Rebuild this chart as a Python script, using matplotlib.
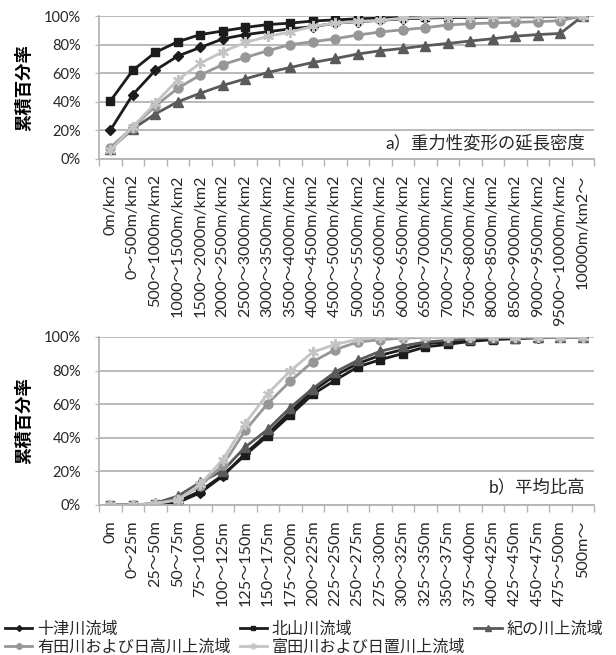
import matplotlib
matplotlib.use("Agg")
import matplotlib.pyplot as plt
from matplotlib.lines import Line2D
from matplotlib.ticker import FixedLocator, PercentFormatter

plt.rcParams["font.family"] = ["Lato", "Noto Sans CJK JP", "DejaVu Sans"]

# --- category labels -------------------------------------------------------
density_labels = ["0m/km2"] + [
    f"{lo}～{lo + 500}m/km2" for lo in range(0, 10000, 500)
] + ["10000m/km2～"]
relief_labels = ["0m"] + [
    f"{lo}～{lo + 25}m" for lo in range(0, 500, 25)
] + ["500m～"]

series_names = ["十津川流域", "北山川流域", "紀の川上流域",
                "有田川および日高川上流域", "富田川および日置川上流域"]

# --- a) cumulative % by gravitational deformation length density ----------
density_totsukawa = [20, 45, 62, 72, 78, 84, 87, 89, 91, 92.5, 95, 96, 97,
                     98, 98.5, 99, 99, 99.2, 99.4, 99.5, 99.6, 100]
density_kitayama = [40.5, 62, 74.5, 82, 87, 89.5, 92, 94, 95, 96.5, 97.3, 98,
                    98.5, 99, 99.2, 99.4, 99.5, 99.6, 99.7, 99.8, 99.9, 100]
density_kinokawa = [7, 21, 31.5, 40, 46, 51.5, 56, 60.5, 64, 67.5, 70.3, 73.4,
                    75.7, 77.3, 79.2, 80.8, 82.5, 84.1, 85.9, 87, 87.8, 100]
density_arida = [8, 22, 37, 49.5, 58.7, 66, 71, 75.7, 80, 82, 84.1, 86.7,
                 88.8, 90.4, 91.8, 93.7, 94.6, 95.1, 95.6, 96, 96.7, 100]
density_tonda = [6, 22.4, 39, 55.4, 67, 75, 81.5, 85.7, 88.8, 92.7, 95, 96.2,
                 97, 98.5, 99, 99.5, 99.6, 99.7, 99.8, 99.9, 99.9, 100]

# --- b) cumulative % by mean relief -----------------------------------------
relief_totsukawa = [0, 0, 0.5, 1.4, 7.3, 17.2, 30.7, 42.4, 55.4, 67.9, 77.2,
                    84.2, 89.1, 92.5, 96, 97, 98, 99, 99.4, 99.7, 99.9, 100]
relief_kitayama = [0, 0, 0.5, 2, 8.3, 17.8, 29.7, 41.2, 53.5, 65.9, 74.3,
                   82.2, 86.5, 90.1, 94.1, 95.6, 97.4, 98.4, 99, 99.5, 99.8, 100]
relief_kinokawa = [0, 0, 1, 5.3, 13.5, 20.4, 34.5, 45, 58, 69.3, 79.2, 86.1,
                   91.5, 94.7, 97, 98, 99, 99.4, 99.7, 99.9, 100, 100]
relief_arida = [0, 0, 0.8, 3.4, 11.5, 23.6, 44.4, 60.4, 73.7, 85.3, 92.5, 97,
                98.4, 99.4, 99.8, 100, 100, 100, 100, 100, 100, 100]
relief_tonda = [0, 0, 0.8, 3, 12.3, 27, 48.5, 66.3, 79.8, 91, 95.6, 98.6,
                100, 100, 100, 100, 100, 100, 100, 100, 100, 100]

colors = ["#1c1c1c", "#1c1c1c", "#5a5a5a", "#979797", "#c4c4c4"]
markers = ["D", "s", "^", "o", (6, 2, 0)]
marker_sizes = [5, 6, 6.5, 6.5, 8]

GRID = "#b4b4b4"
TEXT = "#262626"


def draw_panel(ax, labels, series, caption):
    x = range(len(labels))
    for name, vals, c, m, ms in zip(series_names, series, colors, markers,
                                    marker_sizes):
        ax.plot(x, vals, color=c, linewidth=2, marker=m, markersize=ms,
                markeredgecolor=c, markeredgewidth=1.5 if m == markers[-1] else 1,
                label=name)

    ax.set_xlim(-0.5, len(labels) - 0.5)
    ax.set_ylim(0, 100)
    ax.yaxis.set_major_locator(FixedLocator([0, 20, 40, 60, 80, 100]))
    ax.yaxis.set_major_formatter(PercentFormatter(decimals=0))
    ax.grid(axis="y", color=GRID, linewidth=1.3)
    ax.set_axisbelow(True)

    ax.set_xticks(list(x))
    ax.set_xticklabels(labels, rotation=90, fontsize=11.6, color=TEXT,
                       va="top")
    ax.set_xticks([i - 0.5 for i in range(len(labels) + 1)], minor=True)
    ax.tick_params(axis="x", which="major", length=0, pad=11)
    ax.tick_params(axis="x", which="minor", length=5, color=GRID, width=1)
    ax.tick_params(axis="y", length=3, color=GRID, labelsize=10.5,
                   labelcolor=TEXT, pad=10)

    for side in ("top", "right"):
        ax.spines[side].set_visible(False)
    for side in ("left", "bottom"):
        ax.spines[side].set_color(GRID)
        ax.spines[side].set_linewidth(1.3)

    ax.set_ylabel("累積百分率", fontsize=12.5, fontweight="bold", color="black")
    ax.yaxis.set_label_coords(-0.135, 0.5)
    ax.text(0.983, 0.11, caption, transform=ax.transAxes, ha="right",
            va="center", fontsize=12.5, color=TEXT)


fig = plt.figure(figsize=(6.16, 6.55), dpi=100)
W, H = 616, 655
ax_a = fig.add_axes([99 / W, 1 - 159 / H, 495 / W, 143 / H])
ax_b = fig.add_axes([99 / W, 1 - 505 / H, 495 / W, 168 / H])

draw_panel(ax_a, density_labels,
           [density_totsukawa, density_kitayama, density_kinokawa,
            density_arida, density_tonda],
           "a）重力性変形の延長密度")
draw_panel(ax_b, relief_labels,
           [relief_totsukawa, relief_kitayama, relief_kinokawa,
            relief_arida, relief_tonda],
           "b）平均比高")

# smaller markers in the legend keys
handles = [Line2D([], [], color=c, linewidth=2, marker=m,
                  markersize=ms * 0.6, markeredgecolor=c)
           for c, m, ms in zip(colors, markers, marker_sizes)]

# legend flows row by row, so list handles column-major for ncol=3
order = [0, 3, 1, 4, 2]
leg = fig.legend([handles[i] for i in order], [series_names[i] for i in order],
                 loc="upper left", bbox_to_anchor=(5 / W, 1 - 621 / H),
                 ncol=3, frameon=False, fontsize=11.6, handlelength=1.7,
                 handletextpad=0.3, columnspacing=0.55, labelspacing=0.2,
                 borderpad=0.0, borderaxespad=0.0)
for t in leg.get_texts():
    t.set_color(TEXT)

fig.savefig("out.png", dpi=100)
